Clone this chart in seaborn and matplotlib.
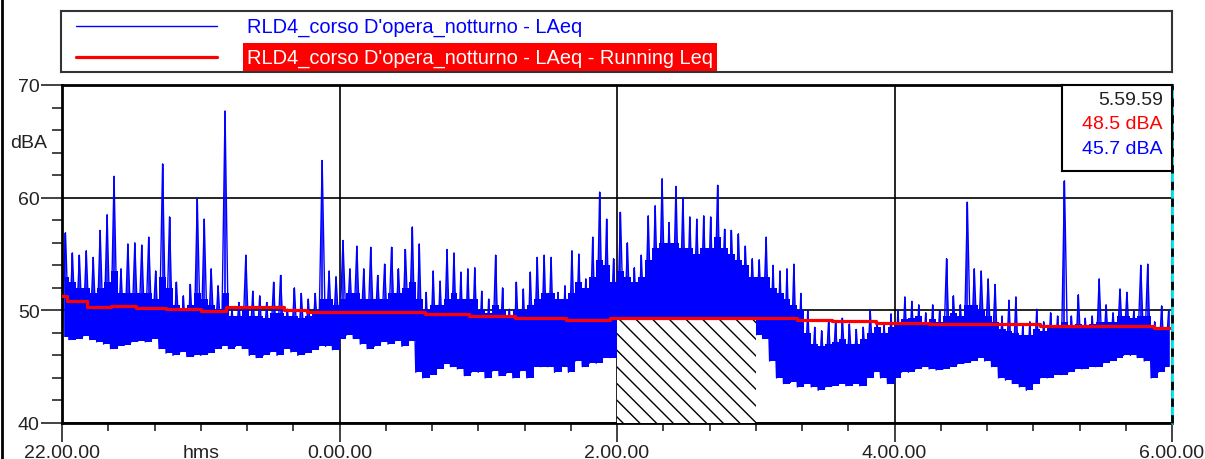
import numpy as np
import matplotlib
matplotlib.use('Agg')
import matplotlib.pyplot as plt
import seaborn as sns
from matplotlib.lines import Line2D
from matplotlib.ticker import FixedLocator, MultipleLocator
import matplotlib.transforms as mtransforms

# LAeq in 3-minute bins, 22:00 -> 6:00, one hour per row
laeq_peak = [
    56.9, 55.1, 54.9, 55.3, 54.7, 57.1, 58.5, 61.9, 53.7, 55.9, 56.0, 55.8, 56.5, 53.5, 63.0, 58.3, 52.5, 51.3, 52.3, 59.9,
    58.1, 53.7, 52.2, 67.7, 50.1, 50.7, 54.9, 51.7, 51.3, 50.7, 52.5, 53.1, 50.1, 52.0, 51.5, 51.0, 51.5, 63.3, 53.5, 53.0,
    56.2, 53.7, 55.7, 53.7, 55.6, 53.1, 54.1, 55.6, 53.7, 55.4, 57.4, 55.9, 51.6, 53.5, 52.6, 55.4, 55.1, 53.4, 53.7, 53.8,
    51.7, 51.0, 54.9, 52.0, 50.1, 52.5, 51.9, 53.4, 54.7, 54.9, 54.7, 51.6, 52.2, 55.3, 55.0, 52.8, 56.5, 60.5, 58.1, 54.6,
    58.7, 56.0, 53.8, 54.9, 58.4, 59.3, 61.7, 57.8, 61.0, 60.0, 58.3, 58.1, 58.4, 58.3, 61.1, 57.2, 57.1, 56.8, 55.7, 54.6,
    54.5, 56.5, 54.0, 53.5, 53.7, 54.1, 51.5, 50.0, 48.5, 48.2, 49.1, 49.0, 49.3, 48.8, 48.3, 48.5, 50.0, 49.0, 48.8, 49.7,
    50.0, 51.2, 50.8, 50.5, 49.8, 50.5, 50.0, 54.6, 51.3, 50.5, 59.6, 53.7, 53.5, 52.8, 52.3, 49.5, 50.9, 51.2, 48.8, 49.0,
    50.1, 49.0, 49.8, 49.5, 61.5, 49.5, 51.4, 49.3, 49.5, 52.8, 50.5, 49.8, 51.9, 51.6, 50.0, 54.0, 54.1, 49.0, 50.4, 49.9,
]
laeq_body = [
    53.0, 52.5, 52.0, 52.0, 51.5, 52.0, 52.5, 53.5, 51.5, 51.5, 51.5, 51.5, 51.5, 51.0, 53.0, 52.0, 50.5, 50.0, 50.5, 51.5,
    51.0, 50.5, 50.0, 51.5, 49.5, 49.5, 50.0, 49.5, 49.5, 49.3, 49.8, 49.8, 49.5, 49.5, 49.3, 49.5, 49.8, 51.0, 51.0, 50.5,
    51.0, 51.5, 51.5, 51.0, 51.0, 51.0, 51.0, 51.5, 51.5, 52.0, 52.5, 51.0, 50.0, 50.5, 50.5, 51.0, 51.5, 51.0, 51.0, 51.0,
    50.0, 49.8, 50.5, 50.0, 49.5, 50.0, 50.0, 50.5, 51.0, 51.5, 51.5, 51.0, 51.0, 51.5, 52.5, 52.0, 53.0, 54.5, 54.0, 52.5,
    53.5, 53.0, 52.5, 53.0, 54.5, 55.5, 56.0, 56.0, 56.0, 55.5, 55.5, 55.0, 55.5, 55.5, 56.5, 55.5, 55.0, 54.5, 54.0, 53.0,
    53.0, 53.0, 52.0, 51.5, 51.0, 50.5, 50.0, 48.0, 47.0, 46.8, 47.0, 47.2, 47.5, 47.0, 47.0, 47.5, 48.0, 48.5, 48.0, 48.5,
    49.0, 49.2, 49.3, 49.5, 49.0, 49.2, 49.0, 49.5, 49.8, 49.5, 50.5, 50.5, 50.0, 49.5, 49.0, 48.3, 48.2, 48.0, 47.8, 47.8,
    48.3, 48.2, 48.5, 48.5, 49.0, 48.6, 48.8, 48.7, 48.8, 49.0, 49.0, 49.0, 49.5, 49.5, 49.3, 49.5, 49.5, 48.5, 48.5, 48.5,
]
laeq_low = [
    47.6, 47.4, 47.5, 47.7, 47.4, 47.2, 47.0, 46.6, 46.8, 46.9, 47.2, 47.3, 47.2, 47.5, 46.6, 46.2, 46.0, 46.3, 45.9, 46.0,
    46.0, 46.2, 46.6, 46.8, 46.6, 46.8, 46.6, 46.0, 45.8, 46.0, 46.3, 46.0, 46.6, 46.3, 46.0, 46.2, 46.5, 46.8, 46.8, 46.5,
    47.5, 47.8, 47.5, 47.0, 46.6, 46.8, 47.2, 47.0, 47.3, 46.8, 47.3, 44.5, 44.0, 44.3, 44.8, 45.2, 45.0, 44.8, 44.2, 44.5,
    44.5, 44.0, 44.6, 44.2, 44.4, 44.0, 44.6, 44.0, 45.0, 45.0, 45.0, 44.5, 45.0, 44.5, 45.5, 45.0, 45.3, 45.3, 45.8, 45.8,
    47.0, 47.0, 47.0, 47.0, 47.5, 47.5, 48.0, 48.0, 48.0, 48.0, 48.0, 48.0, 48.0, 48.0, 48.0, 48.0, 48.0, 48.0, 48.0, 48.0,
    47.8, 47.5, 45.5, 44.0, 43.5, 43.6, 43.2, 43.5, 43.2, 42.9, 43.2, 43.3, 43.5, 43.3, 43.5, 43.3, 44.0, 44.5, 44.0, 43.5,
    44.0, 44.5, 44.5, 44.8, 45.0, 44.8, 44.7, 44.8, 45.0, 45.2, 45.3, 45.5, 45.8, 45.5, 45.0, 44.0, 43.8, 43.5, 43.2, 42.9,
    43.5, 44.0, 44.0, 44.3, 44.3, 44.5, 44.8, 44.8, 45.0, 45.0, 45.3, 45.5, 45.8, 46.0, 46.0, 45.8, 45.5, 44.0, 44.5, 45.0,
]
bin_minutes = 3

# running Leq steps (minutes after 22:00)
leq_min = [0, 2, 11, 21, 32, 45, 60, 71, 96, 106, 157, 176, 196, 218, 237, 318, 333, 352, 375, 423, 472, 480]
leq_val = [51.3, 50.8, 50.3, 50.4, 50.25, 50.1, 49.95, 50.3, 50.0, 49.85, 49.65, 49.5, 49.33, 49.18, 49.35,
           49.18, 49.05, 48.9, 48.75, 48.6, 48.45, 48.45]

x_major = [0, 120, 240, 360, 480]
x_labels = ['22.00.00', '0.00.00', '2.00.00', '4.00.00', '6.00.00']
y_major = [40, 50, 60, 70]
hatch_from, hatch_to = 240, 300
cursor_texts = ['5.59.59', '48.5 dBA', '45.7 dBA']
series_name = "RLD4_corso D'opera_notturno - LAeq"
running_name = "RLD4_corso D'opera_notturno - LAeq - Running Leq"

sns.set_style('white')
plt.rcParams['font.family'] = ['Liberation Sans', 'DejaVu Sans']
plt.rcParams['hatch.linewidth'] = 1.0
BLUE, RED = '#0000ff', '#ff0000'
FS = 14

W, H = 1205, 460
fig = plt.figure(figsize=(W / 100, H / 100), dpi=100)
ax = fig.add_axes([62 / W, 1 - 424 / H, 1110 / W, 338 / H])

n = len(laeq_low)
start = np.arange(n) * bin_minutes
mid = start + bin_minutes / 2
zig_x = np.column_stack([start, mid]).ravel()
zig_y = np.column_stack([laeq_low, laeq_peak]).ravel()

# dense band + spikes
ax.fill_between(mid, laeq_low, laeq_body, step='mid', color=BLUE, lw=0, zorder=2)
sns.lineplot(x=zig_x, y=zig_y, color=BLUE, lw=1.0, estimator=None, sort=False, ax=ax, zorder=2)
ax.vlines(mid, laeq_low, laeq_peak, color=BLUE, lw=1.2, zorder=2)

# hatched block under the running Leq
level = leq_val[np.searchsorted(leq_min, hatch_from, side='right') - 1]
ax.fill_between([hatch_from, hatch_to], 40, level, facecolor='white', edgecolor='black',
                hatch='\\' * 2, lw=0, zorder=3)

sns.lineplot(x=leq_min, y=leq_val, color=RED, lw=2.3, drawstyle='steps-post', estimator=None,
             sort=False, ax=ax, zorder=5)

ax.set_xlim(0, 480)
ax.set_ylim(40, 70)
ax.xaxis.set_major_locator(FixedLocator(x_major))
ax.set_xticklabels(x_labels)
ax.xaxis.set_minor_locator(MultipleLocator(20))
ax.yaxis.set_major_locator(FixedLocator(y_major))
ax.yaxis.set_minor_locator(MultipleLocator(2))
ax.set_axisbelow(True)
ax.grid(True, which='major', color='black', lw=1.2)
ax.tick_params(axis='x', which='major', length=14, width=1.2, pad=1, labelsize=FS, colors='#222222')
ax.tick_params(axis='x', which='minor', length=6, width=1.2)
ax.tick_params(axis='y', which='major', length=15, width=1.2, pad=1, labelsize=FS, colors='#222222')
ax.tick_params(axis='y', which='minor', length=7, width=1.2)
ax.tick_params(which='both', bottom=True, left=True, direction='out')
ax.set_xlabel('')
ax.set_ylabel('')
for side in ['top', 'left', 'bottom']:
    ax.spines[side].set_color('black')
    ax.spines[side].set_linewidth(2)
ax.spines['right'].set_visible(False)
ax.axvline(480, color='#00e5ee', lw=2, zorder=6, clip_on=False)
ax.axvline(480, color='black', lw=2, ls=(0, (3, 3)), zorder=7, clip_on=False)

trans_y = mtransforms.blended_transform_factory(ax.transAxes, ax.transData)
ax.text(-0.0135, 64.9, 'dBA', transform=trans_y, ha='right', va='center', fontsize=FS, color='#222222')
trans_x = mtransforms.blended_transform_factory(ax.transData, ax.transAxes)
ax.text(60, -0.062, 'hms', transform=trans_x, ha='center', va='top', fontsize=FS, color='#222222')

# cursor readout box
cax = fig.add_axes([1062 / W, 1 - 172 / H, 110 / W, 86 / H])
cax.set_xticks([])
cax.set_yticks([])
for s in cax.spines.values():
    s.set_linewidth(1.5)
    s.set_color('black')
for txt, yy, c in zip(cursor_texts, [0.837, 0.547, 0.256], ['#222222', RED, BLUE]):
    cax.text(0.918, yy, txt, ha='right', va='center', fontsize=FS, color=c, transform=cax.transAxes)

# legend box
lax = fig.add_axes([61 / W, 1 - 73 / H, 1111 / W, 61 / H])
lax.set_xlim(0, 1)
lax.set_ylim(0, 1)
lax.set_xticks([])
lax.set_yticks([])
for s in lax.spines.values():
    s.set_linewidth(1.5)
    s.set_color('#333333')
lax.plot([0.0135, 0.1404], [0.754, 0.754], color=BLUE, lw=1.0)
lax.plot([0.0135, 0.1404], [0.246, 0.246], color=RED, lw=2.3)
lax.text(0.1674, 0.754, series_name, color=BLUE, fontsize=14.4, va='center', ha='left')
lax.text(0.1674, 0.246, running_name, color='white', fontsize=14.4, va='center', ha='left',
         bbox=dict(facecolor=RED, edgecolor='none', pad=3))

fig.add_artist(Line2D([0.0015, 0.0015], [0, 1], transform=fig.transFigure, color='black', lw=2))

fig.savefig('out.png', dpi=100)
